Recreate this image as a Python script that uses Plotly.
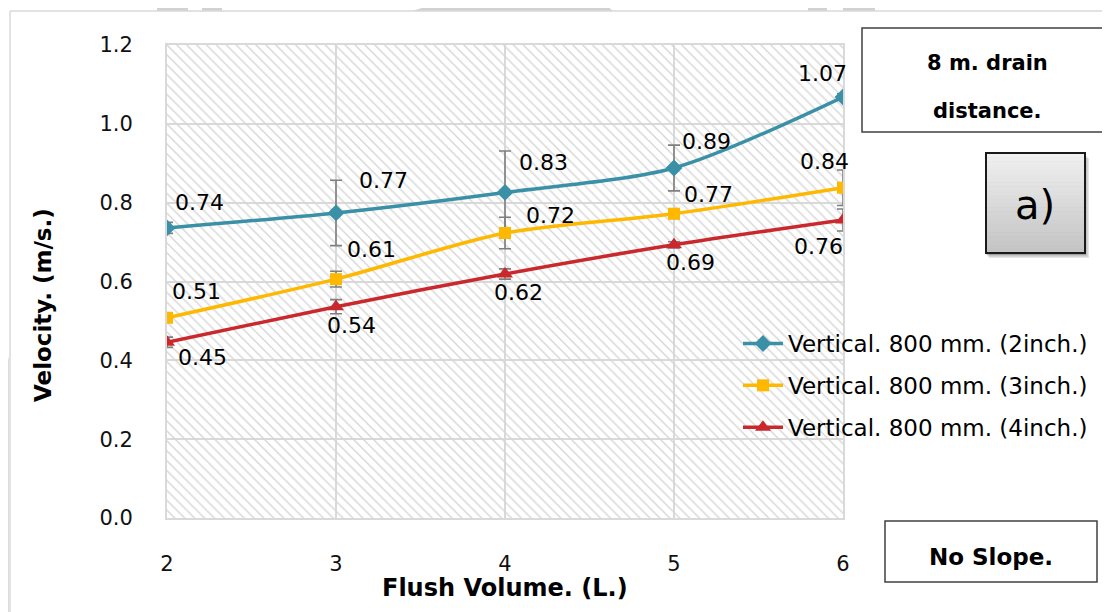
import plotly.graph_objects as go

# ---------------- data ----------------
flush_volume = [2, 3, 4, 5, 6]
series_names = ["Vertical. 800 mm. (2inch.)", "Vertical. 800 mm. (3inch.)", "Vertical. 800 mm. (4inch.)"]
vel_2inch = [0.736, 0.774, 0.826, 0.888, 1.068]
vel_3inch = [0.508, 0.606, 0.723, 0.772, 0.838]
vel_4inch = [0.446, 0.536, 0.619, 0.693, 0.756]
err_2inch = [0.014, 0.083, 0.105, 0.058, 0.008]
err_3inch = [0.008, 0.020, 0.040, 0.012, 0.045]
err_4inch = [0.013, 0.018, 0.013, 0.008, 0.028]
y_ticks = [0.0, 0.2, 0.4, 0.6, 0.8, 1.0, 1.2]
x_range = [2, 6]
y_range = [0, 1.2]

# ---------------- styles ----------------
FONT = "DejaVu Sans"
colors = ["#3A90A6", "#FFB800", "#C9282D"]
symbols = ["diamond", "square", "triangle-up"]
msizes = [13, 12, 14]
# label offsets in pixels (dx right, dy up)
label_offsets = [
    [(32, 25), (47, 32), (38, 30), (32, 26), (-21, 24)],
    [(29, 26), (35, 30), (45, 18), (34, 19), (-19, 26)],
    [(35, -15), (15, -19), (13, -18), (16, -18), (-25, -26)],
]

# page geometry (reference pixels); the page body adds an 8px margin
W, H = 1110, 612
BODY = 8
PL, PR, PT, PB = 167, 843, 45, 518
PW, PH = PR - PL, PB - PT


def px(x):
    return (x - PL) / PW


def py(y):
    return (PB - y) / PH


def text_ann(x, y, text, size, angle=0):
    fig.add_annotation(xref="paper", yref="paper", x=px(x), y=py(y), text=text, showarrow=False,
                       xanchor="center", yanchor="middle", textangle=angle,
                       font=dict(family=FONT, size=size, color="#000"))


fig = go.Figure()

# hatched plot-area background
fig.add_trace(go.Bar(
    x=[(x_range[0] + x_range[1]) / 2], y=[y_range[1]], width=[x_range[1] - x_range[0]],
    marker=dict(color="rgba(0,0,0,0)", line=dict(width=0),
                pattern=dict(shape="\\", fgcolor="#d6d6d6", bgcolor="rgba(0,0,0,0)",
                             size=7, solidity=0.2, fillmode="replace")),
    hoverinfo="skip", showlegend=False,
))

all_vals = [vel_2inch, vel_3inch, vel_4inch]
all_errs = [err_2inch, err_3inch, err_4inch]
for i, (name, vals, errs) in enumerate(zip(series_names, all_vals, all_errs)):
    fig.add_trace(go.Scatter(
        x=flush_volume, y=vals, name=name, legendgroup=f"g{i}",
        mode="lines+markers",
        line=dict(color=colors[i], width=3.5, shape="spline", smoothing=0.8),
        marker=dict(symbol=symbols[i], size=msizes[i], color=colors[i]),
        error_y=dict(type="data", array=errs, visible=True, color="#7f7f7f", thickness=1.6, width=6),
    ))
    for j, (xv, yv) in enumerate(zip(flush_volume, vals)):
        dx, dy = label_offsets[i][j]
        fig.add_annotation(x=xv, y=yv, text=f"{yv:.2f}", showarrow=False,
                           xanchor="center", yanchor="middle",
                           xshift=dx, yshift=dy, font=dict(family=FONT, size=22, color="#000"))

# axis titles
text_ann(505, 588, "<b>Flush Volume. (L.)</b>", 24)
text_ann(43, 305, "<b>Velocity. (m/s.)</b>", 23, angle=-90)

shapes = []
# faint background artefacts + outer frame
for (x0, x1) in [(157, 188), (202, 222), (808, 827), (843, 875)]:
    shapes.append(dict(type="rect", xref="paper", yref="paper", x0=px(x0), x1=px(x1), y0=py(11), y1=py(0),
                       fillcolor="#d2d2d2", line=dict(width=0), layer="below"))
shapes.append(dict(type="path", xref="paper", yref="paper",
                   path=f"M {px(412)} {py(11)} L {px(448)} {py(0)} L {px(600)} {py(0)} L {px(613)} {py(11)} Z",
                   fillcolor="#d2d2d2", line=dict(width=0), layer="below"))
shapes.append(dict(type="path", xref="paper", yref="paper",
                   path=f"M {px(0)} {py(330)} L {px(9)} {py(360)} L {px(9)} {py(612)} L {px(0)} {py(612)} Z",
                   fillcolor="#dcdcdc", line=dict(width=0), layer="below"))
shapes.append(dict(type="line", xref="paper", yref="paper", x0=px(10), x1=px(1112), y0=py(11), y1=py(11),
                   line=dict(color="#d9d9d9", width=1.5), layer="below"))
shapes.append(dict(type="line", xref="paper", yref="paper", x0=px(10), x1=px(10), y0=py(11), y1=py(614),
                   line=dict(color="#d9d9d9", width=1.5), layer="below"))

# "8 m. drain distance." box
shapes.append(dict(type="rect", xref="paper", yref="paper", x0=px(862), x1=px(1114), y0=py(132), y1=py(28),
                   fillcolor="white", line=dict(color="#404040", width=1.5)))
text_ann(987, 63, "<b>8 m. drain</b>", 21)
text_ann(987, 111, "<b>distance.</b>", 21)

# "a)" box with shadow and vertical gradient
ax0, ax1, ay0, ay1 = 986, 1085, 153, 253
for k, a in enumerate([0.10, 0.14, 0.18]):
    o = 5 - k * 1.5
    shapes.append(dict(type="rect", xref="paper", yref="paper", x0=px(ax0 + o - 2), x1=px(ax1 + o - 1),
                       y0=py(ay1 + o), y1=py(ay0 + o), fillcolor=f"rgba(0,0,0,{a})", line=dict(width=0)))
nb = 24
c_top, c_bot = (240, 240, 240), (196, 196, 196)
for b in range(nb):
    t = b / (nb - 1)
    c = tuple(round(c_top[k] + (c_bot[k] - c_top[k]) * t) for k in range(3))
    y_a = ay0 + (ay1 - ay0) * b / nb
    y_b = ay0 + (ay1 - ay0) * (b + 1) / nb
    shapes.append(dict(type="rect", xref="paper", yref="paper", x0=px(ax0), x1=px(ax1), y0=py(y_b + 0.5),
                       y1=py(y_a), fillcolor=f"rgb{c}", line=dict(width=0)))
shapes.append(dict(type="rect", xref="paper", yref="paper", x0=px(ax0), x1=px(ax1), y0=py(ay1), y1=py(ay0),
                   fillcolor="rgba(0,0,0,0)", line=dict(color="#1a1a1a", width=2)))
text_ann(1035, 205, "a)", 40)

# "No Slope." box
shapes.append(dict(type="rect", xref="paper", yref="paper", x0=px(885), x1=px(1097), y0=py(582), y1=py(521),
                   fillcolor="white", line=dict(color="#404040", width=1.5)))
text_ann(991, 557, "<b>No Slope.</b>", 23)

fig.update_layout(
    width=W - BODY, height=H - BODY, autosize=False,
    margin=dict(l=PL - BODY, r=W - PR, t=PT - BODY, b=H - PB, pad=0),
    paper_bgcolor="white", plot_bgcolor="white",
    shapes=shapes,
    showlegend=True,
    legend=dict(x=px(738), y=py(322), xanchor="left", yanchor="top", bgcolor="rgba(0,0,0,0)",
                font=dict(family=FONT, size=23, color="#000"), tracegroupgap=9, itemwidth=40),
    bargap=0,
    font=dict(family=FONT, color="#000"),
)
fig.update_xaxes(range=x_range, tickvals=flush_volume, showgrid=True, gridcolor="#d9d9d9", gridwidth=2,
                 zeroline=False, showline=True, linecolor="#d9d9d9", linewidth=2, mirror=True,
                 ticks="", ticklabelstandoff=26, tickfont=dict(family=FONT, size=21, color="#111"))
fig.update_yaxes(range=y_range, tickvals=y_ticks, tickformat=".1f", showgrid=True, gridcolor="#d9d9d9",
                 gridwidth=2, zeroline=False, showline=True, linecolor="#d9d9d9", linewidth=2, mirror=True,
                 ticks="", ticklabelstandoff=28, tickfont=dict(family=FONT, size=21, color="#111"))

fig.write_html("out.html")
